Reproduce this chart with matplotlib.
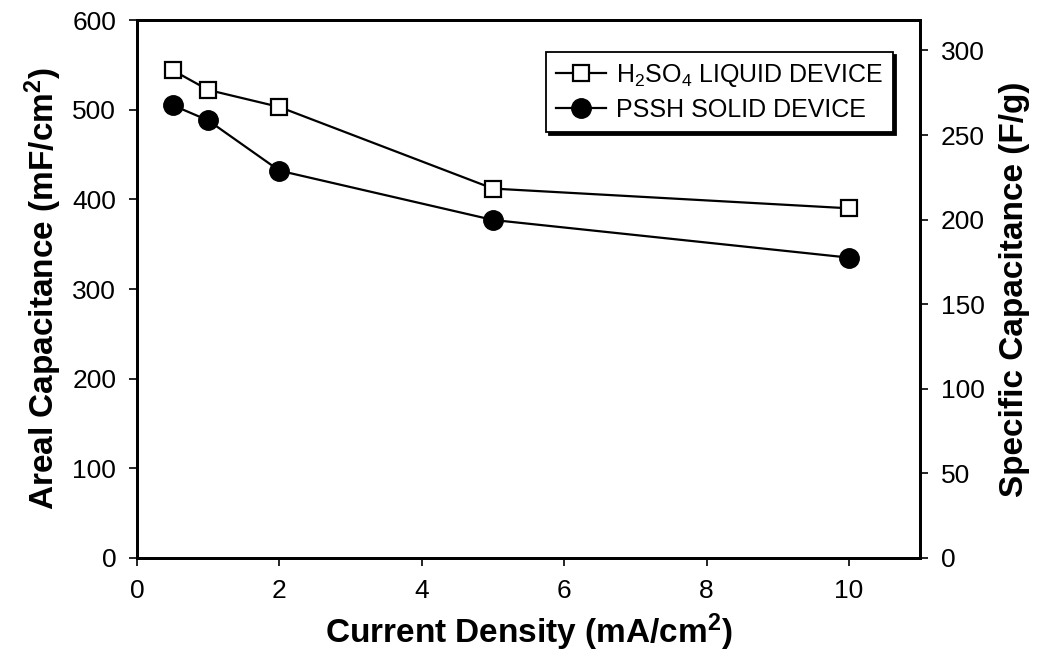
import matplotlib
matplotlib.use("Agg")
import matplotlib.pyplot as plt
from matplotlib.ticker import MultipleLocator

plt.rcParams["font.family"] = ["Liberation Sans", "DejaVu Sans"]
plt.rcParams["font.stretch"] = "condensed"
plt.rcParams["mathtext.default"] = "regular"

# data
current_density = [0.5, 1, 2, 5, 10]
liquid_areal = [544, 522, 503, 412, 390]
solid_areal = [505, 488, 432, 377, 335]

fig = plt.figure(figsize=(10.42, 6.56), dpi=100)
ax = fig.add_axes([0.1315, 0.1494, 0.7515, 0.8201])

ax.plot(current_density, liquid_areal, color="black", lw=1.6,
        marker="s", ms=12, mfc="white", mec="black", mew=1.6,
        label="H$_2$SO$_4$ LIQUID DEVICE", zorder=3)
ax.plot(current_density, solid_areal, color="black", lw=1.6,
        marker="o", ms=14, mfc="black", mec="black",
        label="PSSH SOLID DEVICE", zorder=3)

ax.set_xlim(0, 11)
ax.set_ylim(0, 600)
ax.xaxis.set_major_locator(MultipleLocator(2))
ax.yaxis.set_major_locator(MultipleLocator(100))

for sp in ax.spines.values():
    sp.set_linewidth(2)
ax.tick_params(direction="out", length=6, width=1.2, labelsize=19, pad=9)
ax.tick_params(axis="x", pad=9)

ax.set_xlabel("Current Density (mA/cm$^2$)", fontsize=24, fontweight="bold",
              labelpad=6)
ax.set_ylabel("Areal Capacitance (mF/cm$^2$)", fontsize=24, fontweight="bold",
              labelpad=6)

ax2 = ax.twinx()
ax2.set_ylim(0, 318)
ax2.set_yticks([0, 50, 100, 150, 200, 250, 300])
ax2.tick_params(direction="out", length=6, width=1.2, labelsize=19, pad=9)
for sp in ax2.spines.values():
    sp.set_linewidth(2)
ax2.set_ylabel("Specific Capacitance (F/g)", fontsize=24, fontweight="bold",
               labelpad=10)

leg = ax.legend(loc="upper right", bbox_to_anchor=(0.9655, 0.9405),
                borderaxespad=0, fontsize=18, frameon=True, fancybox=False,
                edgecolor="black", handlelength=2.0, handletextpad=0.4,
                labelspacing=0.35, borderpad=0.4,
                shadow={"color": "black", "alpha": 1.0})
leg.get_frame().set_linewidth(1.3)
leg.get_frame().set_alpha(1)

fig.savefig("out.png", dpi=100)
